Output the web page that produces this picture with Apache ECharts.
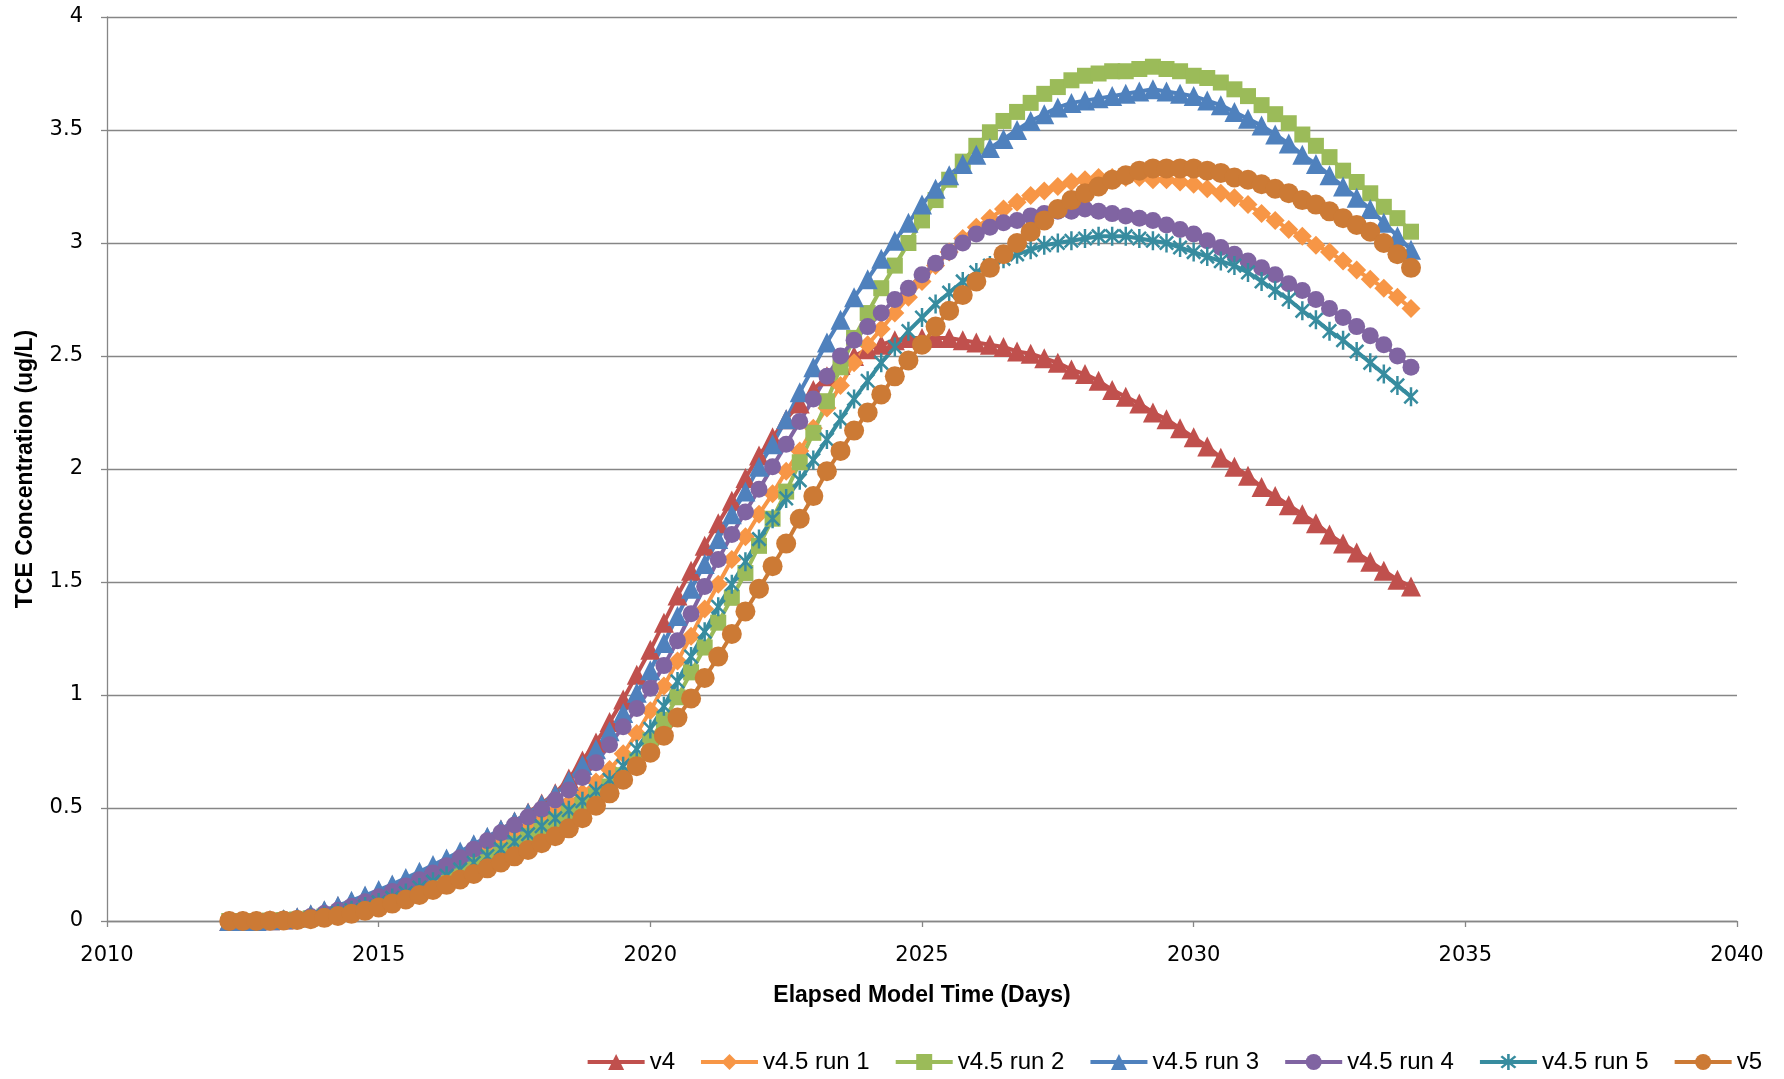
<!DOCTYPE html>
<html><head><meta charset="utf-8">
<script src="https://cdn.jsdelivr.net/npm/echarts@6/dist/echarts.min.js"></script>
<style>html,body{margin:0;padding:0;background:#fff}#c{width:1784px;height:1079px}</style>
</head><body><div id="c"></div>
<script>
// Elapsed model time (decimal years), quarterly output steps
const times = [
2012.25,2012.5,2012.75,2013,
2013.25,2013.5,2013.75,2014,
2014.25,2014.5,2014.75,2015,
2015.25,2015.5,2015.75,2016,
2016.25,2016.5,2016.75,2017,
2017.25,2017.5,2017.75,2018,
2018.25,2018.5,2018.75,2019,
2019.25,2019.5,2019.75,2020,
2020.25,2020.5,2020.75,2021,
2021.25,2021.5,2021.75,2022,
2022.25,2022.5,2022.75,2023,
2023.25,2023.5,2023.75,2024,
2024.25,2024.5,2024.75,2025,
2025.25,2025.5,2025.75,2026,
2026.25,2026.5,2026.75,2027,
2027.25,2027.5,2027.75,2028,
2028.25,2028.5,2028.75,2029,
2029.25,2029.5,2029.75,2030,
2030.25,2030.5,2030.75,2031,
2031.25,2031.5,2031.75,2032,
2032.25,2032.5,2032.75,2033,
2033.25,2033.5,2033.75,2034];

const v4 = [
0,0,0,0.003,
0.007,0.015,0.028,0.045,
0.065,0.085,0.108,0.132,
0.157,0.183,0.21,0.24,
0.27,0.30,0.335,0.37,
0.405,0.44,0.48,0.52,
0.565,0.63,0.71,0.79,
0.88,0.98,1.09,1.20,
1.32,1.44,1.55,1.66,
1.76,1.86,1.96,2.06,
2.14,2.22,2.29,2.35,
2.41,2.46,2.50,2.53,
2.55,2.57,2.58,2.58,
2.58,2.58,2.57,2.56,
2.55,2.54,2.52,2.51,
2.49,2.47,2.44,2.42,
2.39,2.35,2.32,2.29,
2.25,2.22,2.18,2.14,
2.10,2.05,2.01,1.97,
1.92,1.88,1.84,1.80,
1.76,1.71,1.67,1.63,
1.59,1.55,1.51,1.48];

const run1 = [
0,0,0,0.002,
0.004,0.008,0.016,0.028,
0.042,0.058,0.076,0.096,
0.118,0.142,0.167,0.194,
0.222,0.252,0.284,0.316,
0.348,0.38,0.413,0.447,
0.483,0.522,0.565,0.615,
0.67,0.74,0.83,0.93,
1.04,1.15,1.26,1.38,
1.49,1.60,1.70,1.80,
1.89,1.99,2.08,2.18,
2.27,2.37,2.47,2.55,
2.62,2.69,2.76,2.83,
2.90,2.96,3.02,3.07,
3.11,3.15,3.18,3.21,
3.23,3.25,3.27,3.28,
3.29,3.29,3.29,3.29,
3.28,3.28,3.27,3.26,
3.24,3.22,3.20,3.17,
3.13,3.10,3.06,3.03,
2.99,2.96,2.92,2.88,
2.84,2.80,2.76,2.71];

const run2 = [
0,0,0,0.002,
0.004,0.007,0.012,0.02,
0.031,0.045,0.061,0.079,
0.099,0.121,0.145,0.17,
0.196,0.223,0.251,0.28,
0.31,0.342,0.376,0.41,
0.443,0.477,0.513,0.552,
0.595,0.645,0.71,0.80,
0.89,0.99,1.10,1.21,
1.32,1.43,1.54,1.66,
1.78,1.90,2.03,2.16,
2.30,2.45,2.58,2.69,
2.80,2.90,3.00,3.10,
3.19,3.28,3.36,3.43,
3.49,3.54,3.58,3.62,
3.66,3.69,3.72,3.74,
3.75,3.76,3.76,3.77,
3.78,3.77,3.76,3.74,
3.73,3.71,3.68,3.65,
3.61,3.57,3.53,3.48,
3.43,3.38,3.32,3.27,
3.22,3.16,3.11,3.05];

const run3 = [
0,0,0,0.003,
0.008,0.017,0.03,0.048,
0.068,0.09,0.113,0.137,
0.162,0.19,0.218,0.248,
0.277,0.307,0.34,0.373,
0.405,0.44,0.478,0.515,
0.56,0.62,0.69,0.76,
0.84,0.92,1.01,1.11,
1.23,1.35,1.47,1.58,
1.69,1.80,1.90,2.01,
2.11,2.22,2.34,2.45,
2.56,2.66,2.76,2.84,
2.93,3.01,3.09,3.17,
3.24,3.30,3.35,3.39,
3.42,3.46,3.50,3.54,
3.57,3.60,3.62,3.63,
3.64,3.65,3.66,3.67,
3.68,3.67,3.66,3.65,
3.63,3.61,3.58,3.55,
3.52,3.48,3.44,3.39,
3.35,3.30,3.25,3.20,
3.15,3.09,3.03,2.97];

const run4 = [
0,0,0,0.002,
0.005,0.01,0.02,0.033,
0.048,0.065,0.085,0.107,
0.13,0.155,0.183,0.212,
0.245,0.28,0.318,0.355,
0.39,0.425,0.46,0.495,
0.535,0.58,0.635,0.70,
0.78,0.86,0.94,1.03,
1.13,1.24,1.36,1.48,
1.60,1.71,1.81,1.91,
2.01,2.11,2.21,2.31,
2.41,2.50,2.57,2.63,
2.69,2.75,2.80,2.86,
2.91,2.96,3.00,3.04,
3.07,3.09,3.10,3.12,
3.13,3.14,3.14,3.15,
3.14,3.13,3.12,3.11,
3.10,3.08,3.06,3.04,
3.01,2.98,2.95,2.92,
2.89,2.86,2.82,2.79,
2.75,2.71,2.67,2.63,
2.59,2.55,2.50,2.45];

const run5 = [
0,0,0,0.002,
0.004,0.007,0.013,0.022,
0.034,0.048,0.064,0.082,
0.102,0.124,0.148,0.174,
0.2,0.228,0.257,0.287,
0.318,0.35,0.384,0.42,
0.455,0.49,0.53,0.575,
0.625,0.685,0.76,0.85,
0.95,1.06,1.17,1.28,
1.39,1.49,1.59,1.69,
1.78,1.87,1.95,2.04,
2.13,2.22,2.31,2.39,
2.47,2.54,2.61,2.67,
2.73,2.78,2.83,2.87,
2.90,2.93,2.95,2.97,
2.99,3.00,3.01,3.02,
3.03,3.03,3.03,3.02,
3.01,3.00,2.98,2.96,
2.94,2.92,2.90,2.87,
2.83,2.79,2.75,2.70,
2.66,2.61,2.57,2.52,
2.47,2.42,2.37,2.32];

const v5 = [
0,0,0,0.001,
0.002,0.004,0.008,0.014,
0.022,0.032,0.045,0.06,
0.077,0.095,0.115,0.137,
0.16,0.184,0.208,0.233,
0.259,0.286,0.314,0.344,
0.375,0.41,0.455,0.51,
0.565,0.625,0.685,0.745,
0.82,0.90,0.985,1.075,
1.17,1.27,1.37,1.47,
1.57,1.67,1.78,1.88,
1.99,2.08,2.17,2.25,
2.33,2.41,2.48,2.55,
2.63,2.70,2.77,2.83,
2.89,2.95,3.00,3.05,
3.10,3.15,3.19,3.22,
3.25,3.28,3.30,3.32,
3.33,3.33,3.33,3.33,
3.32,3.31,3.29,3.28,
3.26,3.24,3.22,3.19,
3.17,3.14,3.11,3.08,
3.05,3.00,2.95,2.89];

const seriesNames = ['v4','v4.5 run 1','v4.5 run 2','v4.5 run 3','v4.5 run 4','v4.5 run 5','v5'];
const seriesValues = [v4, run1, run2, run3, run4, run5, v5];

const colors = ['#C0504D','#F79646','#9BBB59','#4F81BD','#8064A2','#378C9F','#CC7A35'];
const asterisk = 'path://M-1.3,-10L1.3,-10L1.3,10L-1.3,10Z M-8,-6.1L-6.1,-8L8,6.1L6.1,8Z M6.1,-8L8,-6.1L-6.1,8L-8,6.1Z';
const symbols = ['triangle','diamond','rect','triangle','circle',asterisk,'circle'];
const sizes = [20,19,16,20,17,19,20];

const chart = echarts.init(document.getElementById('c'), null, {renderer:'canvas'});
const axisGrey = '#868686';
const titleFont = '"Liberation Sans Narrow","Liberation Sans",sans-serif';
chart.setOption({
  animation:false,
  backgroundColor:'#ffffff',
  grid:{left:107,right:47,top:17,bottom:158,containLabel:false},
  legend:{
    data:seriesNames, right:22, top:1050, padding:0,
    itemWidth:57, itemHeight:20, itemGap:24,
    lineStyle:{width:4},
    textStyle:{fontFamily:titleFont,fontSize:24,color:'#000'}
  },
  xAxis:{
    type:'value', min:2010, max:2040, interval:5,
    name:'Elapsed Model Time (Days)', nameLocation:'middle', nameGap:63,
    nameTextStyle:{fontFamily:titleFont,fontWeight:'bold',fontSize:23,color:'#000'},
    axisLine:{show:true,lineStyle:{color:axisGrey,width:1.3}},
    axisTick:{show:true,inside:false,length:6,lineStyle:{color:axisGrey,width:1.3}},
    axisLabel:{margin:24,fontFamily:'"DejaVu Sans",sans-serif',fontSize:21,color:'#000',formatter:v=>String(v)},
    splitLine:{show:false}
  },
  yAxis:{
    type:'value', min:0, max:4, interval:0.5,
    name:'TCE Concentration (ug/L)', nameLocation:'middle', nameGap:70,
    nameTextStyle:{fontFamily:titleFont,fontWeight:'bold',fontSize:23,color:'#000'},
    axisLine:{show:true,lineStyle:{color:axisGrey,width:1.3}},
    axisTick:{show:true,inside:false,length:6,lineStyle:{color:axisGrey,width:1.3}},
    axisLabel:{margin:24,fontFamily:'"DejaVu Sans",sans-serif',fontSize:21,color:'#000'},
    splitLine:{show:true,lineStyle:{color:axisGrey,width:1.3}}
  },
  series: seriesNames.map((name,i)=>({
    name:name, type:'line',
    data: times.map((t,j)=>[t, seriesValues[i][j]]),
    symbol:symbols[i], symbolSize:sizes[i], symbolKeepAspect:true,
    showAllSymbol:true,
    lineStyle:{color:colors[i],width:4},
    itemStyle:{color:colors[i],borderColor:colors[i],borderWidth:0},
    emphasis:{disabled:true}
  }))
});
</script></body></html>
